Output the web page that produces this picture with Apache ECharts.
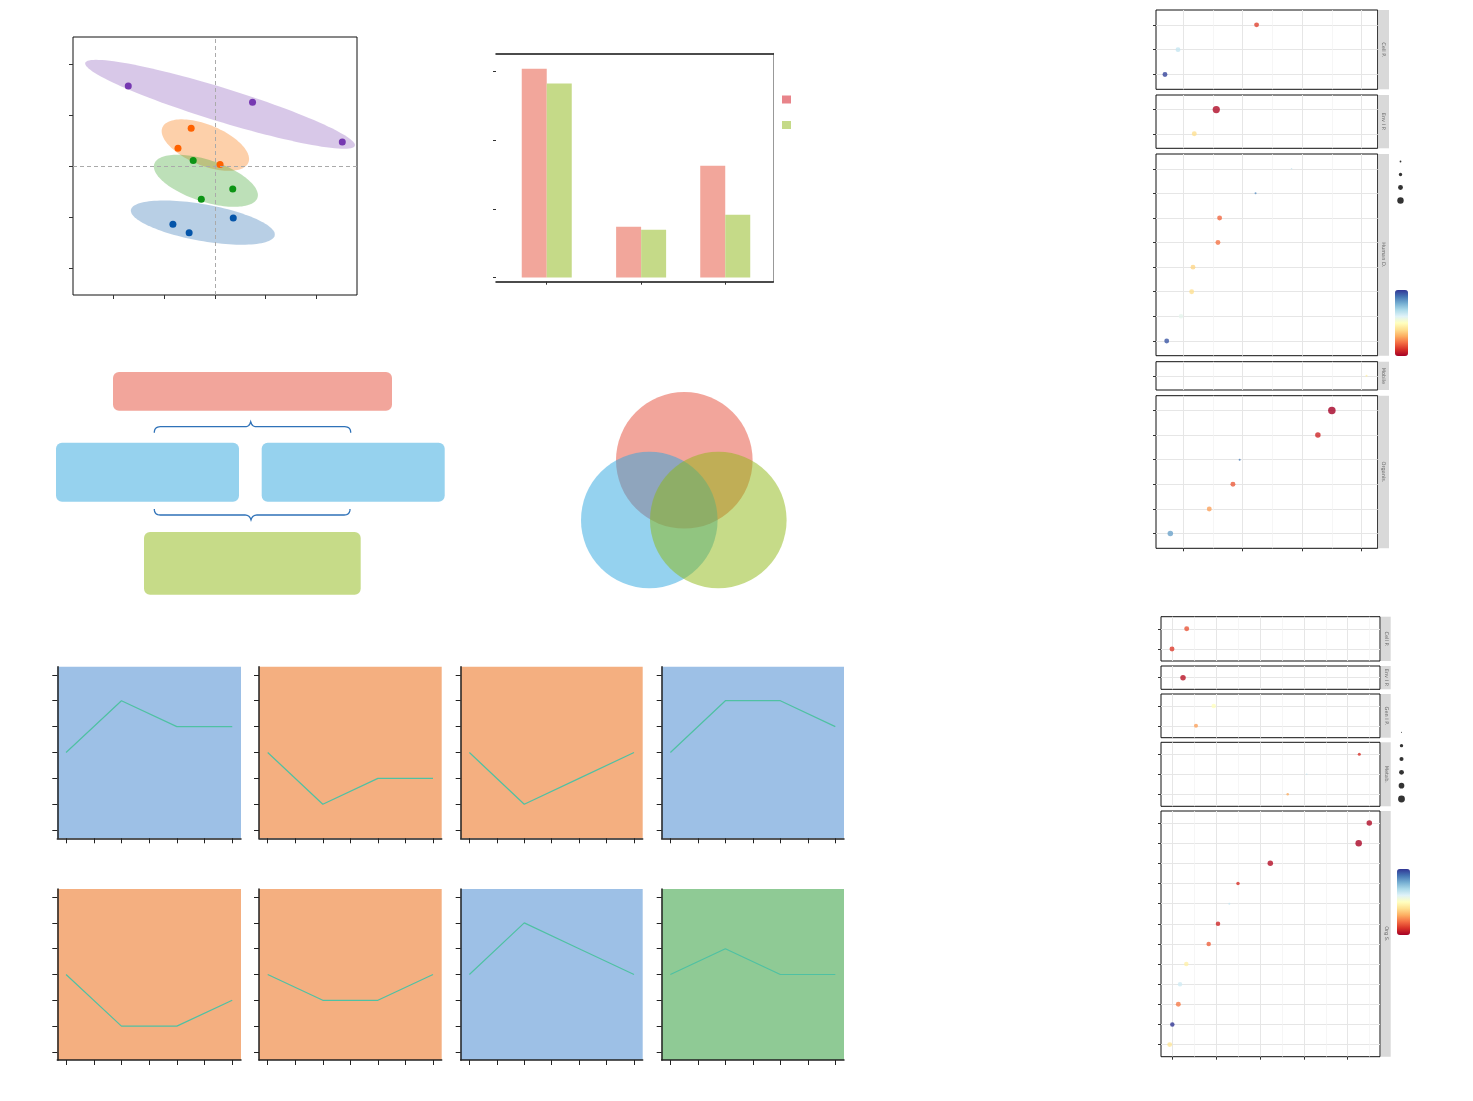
<!DOCTYPE html>
<html><head><meta charset="utf-8">
<script src="https://cdn.jsdelivr.net/npm/echarts@6/dist/echarts.min.js"></script>
<style>html,body{margin:0;padding:0;background:#fff}#c{width:1473px;height:1101px}</style>
</head><body><div id="c"></div>
<script>
// ---------------- DATA ----------------
// Panel A: PCA scores per group
const pcaTicks = [-2, -1, 0, 1, 2];
const pcaPurple = [[-1.71, 1.57], [0.74, 1.25], [2.51, 0.47]];
const pcaOrange = [[-0.47, 0.74], [-0.73, 0.35], [0.10, 0.03]];
const pcaGreen  = [[-0.43, 0.11], [0.35, -0.45], [-0.27, -0.65]];
const pcaBlue   = [[-0.83, -1.14], [-0.51, -1.31], [0.36, -1.02]];
// confidence ellipses: [cx, cy, semi-major, semi-minor, angle deg]
const pcaEllipses = [[0.10, 1.21, 2.78, 0.33, -17], [-0.19, 0.41, 0.915, 0.40, -22], [-0.18, -0.29, 1.07, 0.41, -18], [-0.24, -1.11, 1.44, 0.36, -10]];

// Panel B: grouped bars
const barCategories = ['C1', 'C2', 'C3'];
const barCatPos = [0.549, 1.570, 2.480];
const barSeriesA = [30.35, 7.37, 16.24];
const barSeriesB = [28.2, 6.94, 9.12];
const barTicks = [0, 10, 20, 30];

// Panel D: Venn circles [cx, cy, r]
const vennSets = ['A', 'B', 'C'];
const vennCircles = [[114.3, 80.3, 68.3], [79.3, 140, 68.3], [148.3, 140, 68.3]];

// Panel E: line panels
const lineX = [1, 2, 3, 4];
const lineTicksX = [1, 1.5, 2, 2.5, 3, 3.5, 4];
const lineTicksY = [0, 1, 2, 3, 4, 5, 6];
const linePanelValues = [[3, 5, 4, 4], [3, 1, 2, 2], [3, 1, 2, 3], [3, 5, 5, 4], [3, 1, 1, 2], [3, 2, 2, 3], [3, 5, 4, 3], [3, 4, 3, 3]];
const linePanelClass = ['up', 'down', 'down', 'up', 'down', 'down', 'up', 'flat'];

// Panel F: dot plots (rows bottom -> top)
const dotTopFacets = ['Cell P.', 'Env I P.', 'Human D.', 'Mobile', 'Organis.'];
const dotTopX = [[0.692, 0.911, 2.233], [1.185, 1.555], [0.721, 0.961, 1.141, 1.163, 1.583, 1.611, 2.216, 2.821], [4.082], [0.782, 1.437, 1.835, 1.948, 3.264, 3.499]];
const dotTopColor = [[0.98, 0.65, 0.13], [0.40, 0.02], [0.95, 0.58, 0.40, 0.38, 0.21, 0.19, 0.85, 0.65], [0.45], [0.82, 0.28, 0.17, 0.88, 0.08, 0.0]];
const dotTopCount = [[6, 6, 6], [6, 9], [6, 5.5, 6, 6, 6, 6, 2.3, 1.6], [2.3], [6.8, 6.1, 6.1, 2.3, 6.8, 9.4]];
const dotTopTicks = [1, 2, 3, 4];
const dotTopMinor = [1.5, 2.5, 3.5];
const dotTopSizeLegend = [2, 4, 6, 8];

const dotBotFacets = ['Cell P.', 'Env I P.', 'Gen I P.', 'Metab.', 'Org S.'];
const dotBotX = [[0.993, 1.328], [1.244], [1.540, 1.944], [3.632, 4.065, 5.265], [0.941, 1.0, 1.137, 1.176, 1.319, 1.830, 2.042, 2.300, 2.498, 3.235, 5.251, 5.493]];
const dotBotColor = [[0.12, 0.16], [0.04], [0.28, 0.5], [0.3, 0.65, 0.1], [0.42, 1.0, 0.22, 0.63, 0.45, 0.18, 0.08, 0.65, 0.1, 0.03, 0.01, 0.02]];
const dotBotCount = [[6.1, 6.1], [6.8], [4.9, 5.5], [2.9, 1.6, 3.6], [6.1, 5.5, 6.1, 5.5, 5.5, 5.5, 5.5, 2.3, 4.2, 6.8, 8.1, 6.8]];
const dotBotTicks = [1, 2, 3, 4, 5];
const dotBotMinor = [1.5, 2.5, 3.5, 4.5, 5.5];
const dotBotSizeLegend = [1, 4, 5, 6, 7, 8.5];

// ---------------- LAYOUT / STYLE ----------------
const RdYlBu = ['#a50026', '#d73027', '#f46d43', '#fdae61', '#fee090', '#ffffbf', '#e0f3f8', '#abd9e9', '#74add1', '#4575b4', '#313695'];
const pcaPointColors = ['#7638b1', '#ff6200', '#0c9414', '#0555a9'];
const pcaEllipseFill = ['rgba(142,98,189,0.35)', 'rgba(249,121,12,0.35)', 'rgba(66,166,52,0.35)', 'rgba(52,118,181,0.35)'];
const lineBg = {up: '#9dc0e6', down: '#f4af80', flat: '#8fca95'};
const vennFill = ['rgba(229,75,55,0.5)', 'rgba(43,165,223,0.5)', 'rgba(141,183,17,0.5)'];

const grids = [], xAxes = [], yAxes = [], series = [], graphics = [], visualMaps = [];
const addGrid = g => (grids.push(g), grids.length - 1);
const addX = a => (xAxes.push(a), xAxes.length - 1);
const addY = a => (yAxes.push(a), yAxes.length - 1);
function vAxis(o) {
  return Object.assign({type: 'value', axisLabel: {show: false}, splitLine: {show: false},
    axisLine: {show: false, onZero: false}, axisTick: {show: false}}, o);
}
const tick = (vals, len, col) => ({show: true, customValues: vals, length: len, inside: false, lineStyle: {color: col || '#333', width: 1}});

// ---- Panel A: PCA ----
(function () {
  const g = addGrid({left: 73, top: 37, width: 284, height: 258, show: true, borderColor: '#111', borderWidth: 1});
  const xi = addX(vAxis({gridIndex: g, min: -2.8, max: 2.8, axisTick: tick(pcaTicks, 4)}));
  const yi = addY(vAxis({gridIndex: g, min: -2.53, max: 2.53, axisTick: tick(pcaTicks, 4)}));
  const groups = [pcaPurple, pcaOrange, pcaGreen, pcaBlue];
  groups.forEach((d, i) => {
    const s = {type: 'scatter', xAxisIndex: xi, yAxisIndex: yi, data: d, symbolSize: 7,
      itemStyle: {color: pcaPointColors[i], opacity: 1}, silent: true};
    if (i === 0) s.markLine = {silent: true, symbol: 'none', label: {show: false},
      lineStyle: {color: '#aaa', type: [4, 3], width: 1}, data: [{xAxis: 0}, {yAxis: 0}]};
    series.push(s);
  });
  series.push({type: 'custom', xAxisIndex: xi, yAxisIndex: yi, data: pcaEllipses, silent: true,
    renderItem: function (params, api) {
      const cx = api.value(0), cy = api.value(1), a = api.value(2), b = api.value(3), ang = api.value(4) * Math.PI / 180;
      const pts = [];
      for (let i = 0; i < 120; i++) {
        const t = i / 120 * 2 * Math.PI, ex = a * Math.cos(t), ey = b * Math.sin(t);
        pts.push(api.coord([cx + ex * Math.cos(ang) - ey * Math.sin(ang), cy + ex * Math.sin(ang) + ey * Math.cos(ang)]));
      }
      return {type: 'polygon', shape: {points: pts}, style: {fill: pcaEllipseFill[params.dataIndex]}};
    }});
})();

// ---- Panel B: bars ----
(function () {
  const g = addGrid({left: 496, top: 53.3, width: 277.3, height: 228.4});
  const xi = addX(vAxis({gridIndex: g, min: 0, max: 3, axisLine: {show: true, onZero: false, lineStyle: {color: '#111', width: 1.5}}, axisTick: tick(barCatPos, 3)}));
  addX(vAxis({gridIndex: g, min: 0, max: 3, position: 'top', axisLine: {show: true, onZero: false, lineStyle: {color: '#111', width: 1.5}}}));
  const yi = addY(vAxis({gridIndex: g, min: -0.6, max: 32.6, axisTick: tick(barTicks, 3)}));
  addY(vAxis({gridIndex: g, min: -0.6, max: 32.6, position: 'right', axisLine: {show: true, onZero: false, lineStyle: {color: '#999', width: 1}}}));
  const mk = (name, vals, color, side) => ({type: 'custom', name, xAxisIndex: xi, yAxisIndex: yi, silent: true,
    itemStyle: {color}, data: barCatPos.map((p, i) => [p, vals[i]]),
    renderItem: function (params, api) {
      const base = api.coord([api.value(0), 0]), top = api.coord([api.value(0), api.value(1)]);
      const w = 25;
      return {type: 'rect', shape: {x: side < 0 ? base[0] - w : base[0], y: top[1], width: w, height: base[1] - top[1]}, style: {fill: color}};
    }});
  series.push(mk('Group A', barSeriesA, '#f2a69b', -1));
  series.push(mk('Group B', barSeriesB, '#c5da88', 1));
})();

// ---- Panel C: flow diagram ----
function bracePoints(segs) {
  // segs: list of [type, ...]; 'M' x y, 'L' x y, 'Q' cx cy x y
  const pts = [];
  let cur = null;
  segs.forEach(s => {
    if (s[0] === 'M' || s[0] === 'L') { cur = [s[1], s[2]]; pts.push(cur); }
    else {
      const p0 = cur;
      for (let i = 1; i <= 8; i++) {
        const t = i / 8, u = 1 - t;
        pts.push([u * u * p0[0] + 2 * u * t * s[1] + t * t * s[3], u * u * p0[1] + 2 * u * t * s[2] + t * t * s[4]]);
      }
      cur = [s[3], s[4]];
    }
  });
  return pts;
}
graphics.push({type: 'rect', shape: {x: 113, y: 372, width: 279, height: 38.7, r: 6}, style: {fill: '#f2a59b'}});
graphics.push({type: 'rect', shape: {x: 56, y: 442.7, width: 183, height: 59, r: 6}, style: {fill: '#96d2ee'}});
graphics.push({type: 'rect', shape: {x: 261.7, y: 442.7, width: 183, height: 59, r: 6}, style: {fill: '#96d2ee'}});
graphics.push({type: 'rect', shape: {x: 144, y: 532, width: 216.7, height: 62.7, r: 6}, style: {fill: '#c6db88'}});
graphics.push({type: 'polyline', shape: {points: bracePoints([['M', 154.3, 432.7], ['Q', 154.3, 426.7, 160.3, 426.7], ['L', 245, 426.7], ['Q', 249.5, 426.7, 250.7, 421.7], ['Q', 251.9, 426.7, 256.4, 426.7], ['L', 344.7, 426.7], ['Q', 350.7, 426.7, 350.7, 432.7]])}, style: {stroke: '#2f72b8', lineWidth: 1.3, fill: null}});
graphics.push({type: 'polyline', shape: {points: bracePoints([['M', 154.3, 509], ['Q', 154.3, 515, 160.3, 515], ['L', 245, 515], ['Q', 249.7, 515, 251, 520], ['Q', 252.3, 515, 257, 515], ['L', 344, 515], ['Q', 350, 515, 350, 509]])}, style: {stroke: '#2f72b8', lineWidth: 1.3, fill: null}});

// ---- Panel D: Venn ----
(function () {
  const g = addGrid({left: 570, top: 380, width: 230, height: 220});
  const xi = addX(vAxis({gridIndex: g, min: 0, max: 230, show: false}));
  const yi = addY(vAxis({gridIndex: g, min: 0, max: 220, inverse: true, show: false}));
  series.push({type: 'custom', xAxisIndex: xi, yAxisIndex: yi, silent: true, data: vennCircles,
    renderItem: function (params, api) {
      const c = api.coord([api.value(0), api.value(1)]);
      const r = api.size([api.value(2), 0])[0];
      return {type: 'circle', shape: {cx: c[0], cy: c[1], r}, style: {fill: vennFill[params.dataIndex]}};
    }});
})();

// ---- Panel E: line panels ----
(function () {
  const lefts = [57.3, 259, 460.7, 661.7], widths = [183.7, 182.7, 182, 182.3];
  const tops = [666.7, 889], heights = [171.6, 171];
  linePanelValues.forEach((vals, k) => {
    const r = Math.floor(k / 4), c = k % 4;
    const g = addGrid({left: lefts[c], top: tops[r], width: widths[c], height: heights[r], show: true,
      backgroundColor: lineBg[linePanelClass[k]], borderWidth: 0});
    const axl = {show: true, onZero: false, lineStyle: {color: '#222', width: 1.5}};
    const xi = addX(vAxis({gridIndex: g, min: 0.842, max: 4.158, axisLine: axl, axisTick: tick(lineTicksX, 5, '#222')}));
    const yi = addY(vAxis({gridIndex: g, min: -0.313, max: 6.313, axisLine: axl, axisTick: tick(lineTicksY, 5, '#222')}));
    series.push({type: 'line', xAxisIndex: xi, yAxisIndex: yi, silent: true, symbol: 'none',
      data: lineX.map((x, i) => [x, vals[i]]), lineStyle: {color: '#4fc1a3', width: 1.2}});
  });
})();

// ---- Panel F: dot plots ----
const dotSeriesAll = [];
function dotGroup(cfg) {
  const idx = [];
  cfg.facets.forEach((f, k) => {
    const n = cfg.xs[k].length;
    const top = f[0], h = f[1] - f[0];
    const last = k === cfg.facets.length - 1;
    const g = addGrid({left: cfg.left, top, width: cfg.right - cfg.left, height: h, show: true, borderColor: '#111', borderWidth: 1});
    const xi = addX(vAxis({gridIndex: g, min: cfg.xmin, max: cfg.xmax,
      axisTick: Object.assign(tick(cfg.ticks, 3), {show: last}),
      splitLine: {show: true, lineStyle: {color: '#e6e6e6', width: 1}}}));
    addX(vAxis({gridIndex: g, min: cfg.xmin, max: cfg.xmax, position: 'top',
      axisTick: {show: false, customValues: cfg.minor},
      splitLine: {show: true, lineStyle: {color: '#f2f2f2', width: 0.7}}}));
    const rows = Array.from({length: n}, (_, i) => i);
    const yi = addY(vAxis({gridIndex: g, min: -0.6, max: n - 0.4, axisTick: tick(rows, 3),
      splitLine: {show: true, lineStyle: {color: '#e6e6e6', width: 1}}}));
    series.push({type: 'scatter', xAxisIndex: xi, yAxisIndex: yi, silent: true,
      data: cfg.xs[k].map((x, i) => [x, i, cfg.cols[k][i], cfg.counts[k][i]])});
    idx.push(series.length - 1);
    dotSeriesAll.push(series.length - 1);
    graphics.push({type: 'rect', shape: {x: cfg.strip[0], y: top, width: cfg.strip[1] - cfg.strip[0], height: h}, style: {fill: '#d9d9d9'}});
    graphics.push({type: 'text', x: (cfg.strip[0] + cfg.strip[1]) / 2, y: top + h / 2, rotation: -Math.PI / 2,
      style: {text: cfg.names[k], font: '5px "DejaVu Sans"', fill: '#666', align: 'center', verticalAlign: 'middle'}});
  });
  // size legend
  const L = cfg.sizeLegend;
  const g = addGrid({left: L.left, top: L.top, width: 11, height: L.height});
  const xi = addX(vAxis({gridIndex: g, min: -1, max: 1, show: false}));
  const yi = addY(vAxis({gridIndex: g, min: -0.5, max: L.values.length - 0.5, inverse: true, show: false}));
  series.push({type: 'scatter', xAxisIndex: xi, yAxisIndex: yi, silent: true, itemStyle: {color: '#000'},
    data: L.values.map((v, i) => [0, i, 0, v])});
  dotSeriesAll.push(series.length - 1);
  visualMaps.push({type: 'continuous', min: 0, max: 1, dimension: 2, seriesIndex: idx, calculable: false,
    left: cfg.bar[0], top: cfg.bar[1], itemWidth: 13, itemHeight: cfg.bar[2], padding: 0,
    inRange: {color: RdYlBu}, text: null});
}
dotGroup({left: 1156, right: 1377.7, xmin: 0.541, xmax: 4.27, ticks: dotTopTicks, minor: dotTopMinor,
  facets: [[10, 89.3], [95, 148.3], [154, 355.7], [361.7, 390], [395.7, 548.3]], strip: [1378.5, 1389],
  xs: dotTopX, cols: dotTopColor, counts: dotTopCount, names: dotTopFacets,
  sizeLegend: {left: 1395, top: 155, height: 52, values: dotTopSizeLegend}, bar: [1395, 290, 66]});
dotGroup({left: 1161, right: 1380, xmin: 0.742, xmax: 5.737, ticks: dotBotTicks, minor: dotBotMinor,
  facets: [[616.7, 661], [666, 689.3], [694, 737.7], [742.3, 806.3], [811, 1056.7]], strip: [1381, 1390.7],
  xs: dotBotX, cols: dotBotColor, counts: dotBotCount, names: dotBotFacets,
  sizeLegend: {left: 1396, top: 725.7, height: 80, values: dotBotSizeLegend}, bar: [1397, 869, 66]});
visualMaps.push({type: 'continuous', show: false, min: 1, max: 10, dimension: 3, seriesIndex: dotSeriesAll,
  inRange: {symbolSize: [1, 8]}});

const chart = echarts.init(document.getElementById('c'), null, {renderer: 'canvas'});
chart.setOption({
  animation: false, backgroundColor: '#fff',
  grid: grids, xAxis: xAxes, yAxis: yAxes, series, visualMap: visualMaps,
  graphic: {elements: graphics},
  legend: {left: 782, top: 95.5, orient: 'vertical', icon: 'rect', itemWidth: 9, itemHeight: 8, itemGap: 17.5, padding: 0,
    selectedMode: false, formatter: () => '',
    data: [{name: 'Group A', itemStyle: {color: '#e8848a'}}, {name: 'Group B', itemStyle: {color: '#c5da88'}}]}
});
</script></body></html>
